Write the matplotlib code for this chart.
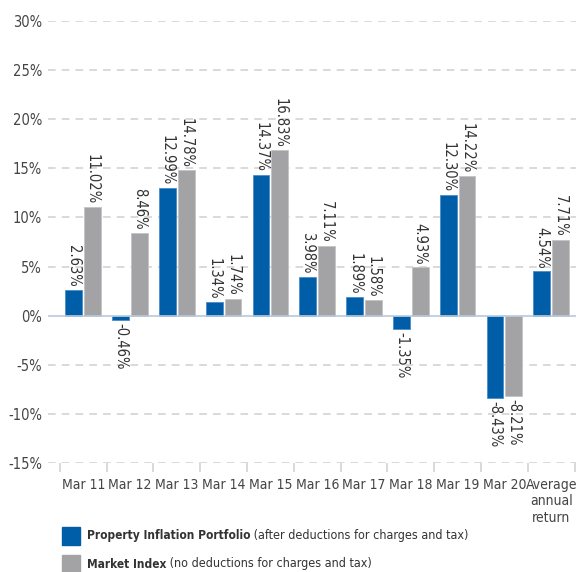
import matplotlib.pyplot as plt
import numpy as np

# data
categories = ["Mar 11", "Mar 12", "Mar 13", "Mar 14", "Mar 15", "Mar 16",
              "Mar 17", "Mar 18", "Mar 19", "Mar 20", "Average\nannual\nreturn"]
portfolio = [2.63, -0.46, 12.99, 1.34, 14.37, 3.98, 1.89, -1.35, 12.30, -8.43, 4.54]
market = [11.02, 8.46, 14.78, 1.74, 16.83, 7.11, 1.58, 4.93, 14.22, -8.21, 7.71]
yticks = [-15, -10, -5, 0, 5, 10, 15, 20, 25, 30]

blue = "#005EA8"
grey = "#A3A3A5"
txt = "#333333"

plt.rcParams['font.family'] = ['DejaVu Sans']
plt.rcParams['font.stretch'] = 'condensed'

fig = plt.figure(figsize=(5.76, 5.72), dpi=100)
ax = fig.add_axes([0.083, 0.1906, 0.917, 0.7727])

x = np.arange(len(categories))
w = 0.36
off = 0.2

b1 = ax.bar(x - off, portfolio, w, color=blue, edgecolor="#4A8CC8", linewidth=0.6, zorder=3)
b2 = ax.bar(x + off, market, w, color=grey, edgecolor="#C4C4C6", linewidth=0.6, zorder=3)

# value labels
for bars, vals in ((b1, portfolio), (b2, market)):
    for bar, v in zip(bars, vals):
        cx = bar.get_x() + bar.get_width() / 2
        if v >= 0:
            ax.annotate(f"{v:.2f}%", (cx, v), xytext=(0, 2), textcoords="offset points",
                        rotation=-90, ha="center", va="bottom", fontsize=10.5, color=txt)
        else:
            ax.annotate(f"{v:.2f}%", (cx, v), xytext=(0, -2), textcoords="offset points",
                        rotation=-90, ha="center", va="top", fontsize=10.5, color=txt)

ax.set_ylim(-15, 30)
ax.set_xlim(-0.756, 10.53)
ax.set_yticks(yticks)
ax.set_yticklabels([f"{t}%" for t in yticks])

# grid lines (dashed), zero line solid
for t in yticks:
    if t == 0:
        ax.axhline(0, color="#B8C8DC", linewidth=1.2, zorder=4)
    else:
        ax.axhline(t, color="#CFCFCF", linewidth=1.1, linestyle=(0, (5, 4)), zorder=1)

for s in ax.spines.values():
    s.set_visible(False)

ax.tick_params(axis="y", length=0, labelsize=10.5, labelcolor="#444444", pad=4)
ax.set_xticks(x)
ax.set_xticklabels(categories, fontsize=10, color="#444444", linespacing=1.2, va="top")
ax.tick_params(axis="x", length=0, pad=11)

# category separator ticks below the bottom line
bounds = np.arange(len(categories) + 1) - 0.5
ax.vlines(bounds, -15.9, -15, colors="#CFCFCF", linewidth=1.1, clip_on=False)

# legend
fig.patches.append(plt.Rectangle((62 / 576, 1 - 545 / 572), 18 / 576, 18 / 572,
                                 transform=fig.transFigure, color=blue, figure=fig))
fig.patches.append(plt.Rectangle((62 / 576, 1 - 573 / 572), 18 / 576, 18 / 572,
                                 transform=fig.transFigure, color=grey, figure=fig))
t1 = fig.text(87 / 576, 1 - 536 / 572, "Property Inflation Portfolio", fontsize=8.6,
              fontweight="bold", color=txt, va="center")
ax.annotate(" (after deductions for charges and tax)", xy=(1, 0), xycoords=t1,
            va="bottom", fontsize=9, color=txt, annotation_clip=False)
t2 = fig.text(87 / 576, 1 - 564 / 572, "Market Index", fontsize=8.6,
              fontweight="bold", color=txt, va="center")
ax.annotate(" (no deductions for charges and tax)", xy=(1, 0), xycoords=t2,
            va="bottom", fontsize=9, color=txt, annotation_clip=False)

fig.savefig("out.png", dpi=100)
